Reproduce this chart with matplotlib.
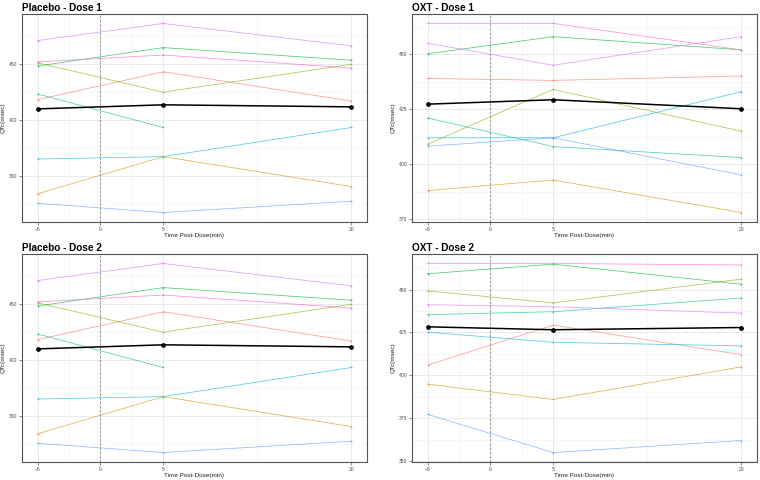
import numpy as np
import matplotlib
matplotlib.use('Agg')
import matplotlib.pyplot as plt
from matplotlib.ticker import MultipleLocator, FixedLocator

plt.rcParams['font.family'] = ['Liberation Sans', 'DejaVu Sans']

times = [-5, 5, 20]
colors = ['#F8766D', '#D39200', '#93AA00', '#00BA38', '#00C19F',
          '#00B9E3', '#619CFF', '#DB72FB', '#FF61C3']

# QTc (msec) per subject, one row per colour, columns = times
placebo_d1 = [
    [431.0, 446.0, 430.2],
    [380.3, 400.3, 384.2],
    [450.8, 435.0, 450.0],
    [449.1, 459.0, 452.2],
    [434.0, 416.0, np.nan],
    [399.0, 400.3, 416.0],
    [375.2, 370.2, 376.3],
    [462.8, 472.0, 459.9],
    [451.3, 455.0, 448.0],
]
placebo_d1_mean = [426.0, 428.2, 427.1]

oxt_d1 = [
    [439.0, 438.1, 440.1],
    [388.0, 392.8, 378.0],
    [409.1, 434.0, 415.0],
    [450.2, 458.0, 452.0],
    [421.0, 408.0, 403.0],
    [412.0, 412.0, 433.0],
    [408.2, 412.0, 395.1],
    [455.0, 445.0, 458.0],
    [464.0, 464.0, 452.0],
]
oxt_d1_mean = [427.3, 429.3, 425.2]

placebo_d2 = [
    [431.0, 446.0, 430.2],
    [380.3, 400.3, 384.2],
    [450.8, 435.0, 450.0],
    [449.1, 459.0, 452.2],
    [434.0, 416.0, np.nan],
    [399.0, 400.3, 416.0],
    [375.2, 370.2, 376.3],
    [462.8, 472.0, 459.9],
    [451.3, 455.0, 448.0],
]
placebo_d2_mean = [426.0, 428.2, 427.1]

oxt_d2 = [
    [406.0, 429.3, 412.1],
    [394.9, 386.0, 405.0],
    [449.2, 442.2, 456.1],
    [459.2, 464.8, 453.1],
    [435.4, 437.1, 445.1],
    [425.2, 419.3, 417.2],
    [377.3, 355.1, 362.1],
    [441.2, 440.0, 436.3],
    [465.2, 465.2, 464.3],
]
oxt_d2_mean = [428.3, 426.6, 427.9]

panels = [
    ('Placebo - Dose 1', placebo_d1, placebo_d1_mean, 30, [22, 14]),
    ('OXT - Dose 1', oxt_d1, oxt_d1_mean, 25, [412, 14]),
    ('Placebo - Dose 2', placebo_d2, placebo_d2_mean, 30, [22, 254]),
    ('OXT - Dose 2', oxt_d2, oxt_d2_mean, 25, [412, 254]),
]

W, H = 760, 480
fig = plt.figure(figsize=(7.6, 4.8), dpi=100)

for title, subj, mean, ystep, (px, py) in panels:
    ax = fig.add_axes([px / W, 1 - (py + 208) / H, 345 / W, 208 / H])
    for row, c in zip(subj, colors):
        ax.plot(times, row, color=c, lw=0.55, alpha=0.7, marker='o', ms=1.4,
                mec='none', zorder=3)
    ax.plot(times, mean, color='black', lw=1.1, marker='o', ms=2.4, zorder=4)
    ax.axvline(0, color='#888888', ls=(0, (3, 2)), lw=0.6, zorder=2)

    ax.set_xlim(-6.25, 21.25)
    ax.margins(y=0.05)
    ax.xaxis.set_major_locator(FixedLocator([-5, 0, 5, 20]))
    ax.xaxis.set_minor_locator(FixedLocator([-2.5, 2.5, 12.5]))
    ax.yaxis.set_major_locator(MultipleLocator(ystep))
    ax.yaxis.set_minor_locator(MultipleLocator(ystep / 2))
    ax.grid(which='major', color='#e6e6e6', lw=0.6)
    ax.grid(which='minor', color='#f1f1f1', lw=0.4)
    ax.set_axisbelow(True)
    ax.tick_params(which='major', labelsize=3.6, length=2, width=0.4,
                   color='#333333', labelcolor='#4d4d4d', pad=1.5)
    ax.tick_params(which='minor', length=0)
    for s in ax.spines.values():
        s.set_color('#555555')
        s.set_linewidth(0.8)
    ax.set_xlabel('Time Post-Dose(min)', fontsize=4.6, labelpad=1, color='#222222')
    ax.set_ylabel('QTc(msec)', fontsize=4.6, labelpad=2, color='#222222')
    ax.set_title(title, loc='left', fontsize=7.2, fontweight='bold', pad=2.5)

fig.savefig('out.png', dpi=100)
